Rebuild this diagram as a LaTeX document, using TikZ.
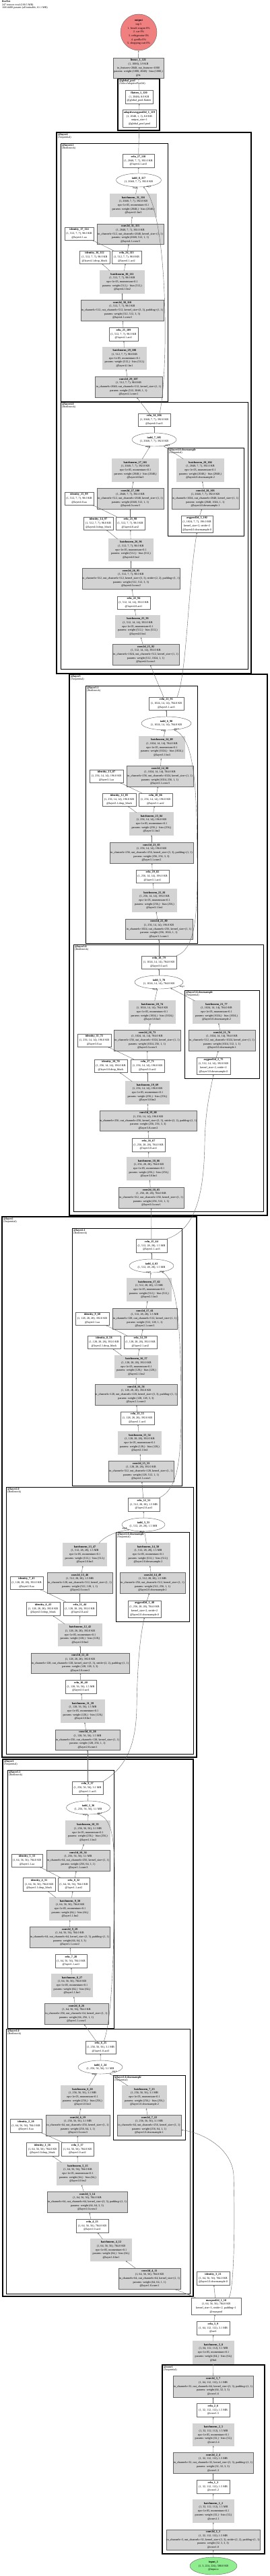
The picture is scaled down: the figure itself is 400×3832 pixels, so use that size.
\documentclass[tikz,border=0pt]{standalone}
\usepackage{fontspec}
\setmainfont{Liberation Serif}
\usetikzlibrary{arrows.meta,shapes.geometric}
\definecolor{lgray}{RGB}{211,211,211}
\definecolor{lcoral}{RGB}{240,128,128}
\definecolor{lgreen}{RGB}{144,238,144}
\begin{document}
\begin{tikzpicture}[x=1pt,y=-1pt,
  every node/.style={font=\fontsize{4.2}{5.7}\selectfont, align=center, inner sep=0pt},
  plainbox/.style={draw=black!60, fill=white, line width=0.45pt},
  convbox/.style={plainbox, fill=lgray},
  bnbox/.style={convbox, double=lgray, double distance=1.1pt},
  addnode/.style={ellipse, draw=black!60, fill=white, line width=0.45pt},
  link/.style={draw=black!60, line width=0.4pt, -{Stealth[length=2.4pt,width=1.9pt]}},
  grp/.style={draw=black, line width=1.2pt},
  subgrp/.style={draw=black, line width=0.9pt},
  grplabel/.style={anchor=north west, align=left, font=\fontsize{4}{4.4}\selectfont},
  arglabel/.style={font=\fontsize{3}{3.4}\selectfont\bfseries}]
\useasboundingbox (0,0) rectangle (400,3832);
\node[grplabel, font=\fontsize{4}{4.5}\selectfont] (title) at (3,1) {\textbf{ResNet}\\247 tensors total (100.5 MB)\\16014408 params (all trainable, 61.1 MB)};

\draw[grp] (175,117) rectangle (237,194);
\node[grplabel] (gpool) at (177,118.5) {\textbf{@global\_pool}\\(SelectAdaptivePool2d)};
\draw[grp] (84,197) rectangle (373,1002);
\node[grplabel] (g4) at (86,198.5) {\textbf{@layer4}\\(Sequential)};
\draw[subgrp] (90,213) rectangle (249,597);
\node[grplabel] (g41) at (92,214.5) {\textbf{@layer4.1}\\(Bottleneck)};
\draw[subgrp] (90,598) rectangle (368,995);
\node[grplabel] (g40) at (92,599.5) {\textbf{@layer4.0}\\(Bottleneck)};
\draw[subgrp] (249,666) rectangle (362,797);
\node[grplabel] (g40d) at (251,667.5) {\textbf{@layer4.0.downsample}\\(Sequential)};
\draw[grp] (103,1003) rectangle (397,1808);
\node[grplabel] (g3) at (105,1004.5) {\textbf{@layer3}\\(Sequential)};
\draw[subgrp] (127,1020) rectangle (293,1403);
\node[grplabel] (g31) at (129,1021.5) {\textbf{@layer3.1}\\(Bottleneck)};
\draw[subgrp] (109,1405) rectangle (391,1802);
\node[grplabel] (g30) at (111,1406.5) {\textbf{@layer3.0}\\(Bottleneck)};
\draw[subgrp] (274,1473) rectangle (385,1604);
\node[grplabel] (g30d) at (276,1474.5) {\textbf{@layer3.0.downsample}\\(Sequential)};
\draw[grp] (3,1810) rectangle (292,2614);
\node[grplabel] (g2) at (5,1811.5) {\textbf{@layer2}\\(Sequential)};
\draw[subgrp] (107,1827) rectangle (270,2210);
\node[grplabel] (g21) at (109,1828.5) {\textbf{@layer2.1}\\(Bottleneck)};
\draw[subgrp] (9,2212) rectangle (287,2609);
\node[grplabel] (g20) at (11,2213.5) {\textbf{@layer2.0}\\(Bottleneck)};
\draw[subgrp] (172,2279) rectangle (281,2412);
\node[grplabel] (g20d) at (174,2280.5) {\textbf{@layer2.0.downsample}\\(Sequential)};
\draw[grp] (4,2617) rectangle (287,3416);
\node[grplabel] (g1) at (6,2618.5) {\textbf{@layer1}\\(Sequential)};
\draw[subgrp] (11,2633) rectangle (169,3017);
\node[grplabel] (g11) at (13,2634.5) {\textbf{@layer1.1}\\(Bottleneck)};
\draw[subgrp] (9,3018) rectangle (282,3412);
\node[grplabel] (g10) at (11,3019.5) {\textbf{@layer1.0}\\(Bottleneck)};
\draw[subgrp] (168,3087) rectangle (275,3183);
\node[grplabel] (g10d) at (170,3088.5) {\textbf{@layer1.0.downsample}\\(Sequential)};
\draw[grp] (241,3518) rectangle (393,3799);
\node[grplabel] (gc1) at (243,3519.5) {\textbf{@conv1}\\(Sequential)};

\node[circle, draw=black!60, fill=lcoral, minimum size=54pt, inner sep=-2pt] (out) at (206,48) {\textbf{output}\\top 5\\1. beach wagon 0\%\\2. car 0\%\\3. refrigerator 0\%\\4. gorilla 0\%\\5. shopping cart 0\%};
\node[convbox, minimum width=75pt, minimum height=30pt] (fc) at (205.5,101) {\textbf{linear\_1\_121}\\(1, 1000), 3.9 KB\\in\_features=2048, out\_features=1000\\params: weight (1000, 2048) · bias (1000,)\\@fc};
\node[plainbox, minimum width=41pt, minimum height=20pt] (flat) at (206.5,144) {\textbf{flatten\_1\_120}\\(1, 2048), 8.0 KB\\@global\_pool.flatten};
\node[plainbox, minimum width=50pt, minimum height=26pt] (pool) at (207,176) {\textbf{adaptiveavgpool2d\_1\_119}\\(1, 2048, 1, 1), 8.0 KB\\output\_size=1\\@global\_pool.pool};

\node[plainbox, minimum width=47pt, minimum height=19.5pt] (relu27) at (205.5,239) {\textbf{relu\_27\_118}\\(1, 2048, 7, 7), 392.0 KB\\@layer4.1.act3};
\node[addnode, minimum width=67pt, minimum height=20pt] (iadd8) at (206,268) {\textbf{iadd\_8\_117}\\(1, 2048, 7, 7), 392.0 KB};
\node[bnbox, minimum width=68pt, minimum height=33pt] (bn31) at (198,305.5) {\textbf{batchnorm\_31\_116}\\(1, 2048, 7, 7), 392.0 KB\\eps=1e-05, momentum=0.1\\params: weight (2048,) · bias (2048,)\\@layer4.1.bn3};
\node[convbox, minimum width=99pt, minimum height=30pt] (conv31) at (193.5,348) {\textbf{conv2d\_31\_115}\\(1, 2048, 7, 7), 392.0 KB\\in\_channels=512, out\_channels=2048, kernel\_size=(1, 1)\\params: weight (2048, 512, 1, 1)\\@layer4.1.conv3};
\node[plainbox, minimum width=43pt, minimum height=19pt] (id17) at (117.5,347.5) {\textbf{identity\_17\_114}\\(1, 512, 7, 7), 98.0 KB\\@layer4.1.aa};
\node[plainbox, minimum width=45pt, minimum height=19pt] (id16) at (140.5,382.5) {\textbf{identity\_16\_112}\\(1, 512, 7, 7), 98.0 KB\\@layer4.1.drop\_block};
\node[plainbox, minimum width=44pt, minimum height=19pt] (relu26) at (188,382.5) {\textbf{relu\_26\_113}\\(1, 512, 7, 7), 98.0 KB\\@layer4.1.act2};
\node[bnbox, minimum width=65pt, minimum height=33pt] (bn30) at (181.5,419.5) {\textbf{batchnorm\_30\_111}\\(1, 512, 7, 7), 98.0 KB\\eps=1e-05, momentum=0.1\\params: weight (512,) · bias (512,)\\@layer4.1.bn2};
\node[convbox, minimum width=123pt, minimum height=31pt] (conv30) at (181.5,461.5) {\textbf{conv2d\_30\_110}\\(1, 512, 7, 7), 98.0 KB\\in\_channels=512, out\_channels=512, kernel\_size=(3, 3), padding=(1, 1)\\params: weight (512, 512, 3, 3)\\@layer4.1.conv2};
\node[plainbox, minimum width=43pt, minimum height=20pt] (relu25) at (183.5,497) {\textbf{relu\_25\_109}\\(1, 512, 7, 7), 98.0 KB\\@layer4.1.act1};
\node[bnbox, minimum width=64pt, minimum height=32pt] (bn29) at (185,533) {\textbf{batchnorm\_29\_108}\\(1, 512, 7, 7), 98.0 KB\\eps=1e-05, momentum=0.1\\params: weight (512,) · bias (512,)\\@layer4.1.bn1};
\node[convbox, minimum width=100pt, minimum height=31pt] (conv29) at (191,575.5) {\textbf{conv2d\_29\_107}\\(1, 512, 7, 7), 98.0 KB\\in\_channels=2048, out\_channels=512, kernel\_size=(1, 1)\\params: weight (512, 2048, 1, 1)\\@layer4.1.conv1};

\node[plainbox, minimum width=48pt, minimum height=19pt] (relu24) at (229,624.5) {\textbf{relu\_24\_106}\\(1, 2048, 7, 7), 392.0 KB\\@layer4.0.act3};
\node[addnode, minimum width=66pt, minimum height=20pt] (iadd7) at (229,654) {\textbf{iadd\_7\_105}\\(1, 2048, 7, 7), 392.0 KB};
\node[bnbox, minimum width=68pt, minimum height=33pt] (bn27) at (201,699.5) {\textbf{batchnorm\_27\_101}\\(1, 2048, 7, 7), 392.0 KB\\eps=1e-05, momentum=0.1\\params: weight (2048,) · bias (2048,)\\@layer4.0.bn3};
\node[bnbox, minimum width=69pt, minimum height=33pt] (bn28) at (297.5,699.5) {\textbf{batchnorm\_28\_104}\\(1, 2048, 7, 7), 392.0 KB\\eps=1e-05, momentum=0.1\\params: weight (2048,) · bias (2048,)\\@layer4.0.downsample.2};
\node[convbox, minimum width=99pt, minimum height=31pt] (conv27) at (193.5,741.5) {\textbf{conv2d\_27\_100}\\(1, 2048, 7, 7), 392.0 KB\\in\_channels=512, out\_channels=2048, kernel\_size=(1, 1)\\params: weight (2048, 512, 1, 1)\\@layer4.0.conv3};
\node[convbox, minimum width=100pt, minimum height=31pt] (conv28) at (305,741.5) {\textbf{conv2d\_28\_103}\\(1, 2048, 7, 7), 392.0 KB\\in\_channels=1024, out\_channels=2048, kernel\_size=(1, 1)\\params: weight (2048, 1024, 1, 1)\\@layer4.0.downsample.1};
\node[plainbox, minimum width=43pt, minimum height=19pt] (id15) at (117.5,741.5) {\textbf{identity\_15\_99}\\(1, 512, 7, 7), 98.0 KB\\@layer4.0.aa};
\node[plainbox, minimum width=44pt, minimum height=19pt] (id14) at (146,778.5) {\textbf{identity\_14\_97}\\(1, 512, 7, 7), 98.0 KB\\@layer4.0.drop\_block};
\node[plainbox, minimum width=43pt, minimum height=19pt] (relu23) at (193.5,778.5) {\textbf{relu\_23\_98}\\(1, 512, 7, 7), 98.0 KB\\@layer4.0.act2};
\node[plainbox, minimum width=47pt, minimum height=25pt] (avg3) at (292.5,779.5) {\textbf{avgpool2d\_3\_102}\\(1, 1024, 7, 7), 196.0 KB\\kernel\_size=2, stride=2\\@layer4.0.downsample.0};
\node[bnbox, minimum width=65pt, minimum height=32pt] (bn26) at (194.5,818) {\textbf{batchnorm\_26\_96}\\(1, 512, 7, 7), 98.0 KB\\eps=1e-05, momentum=0.1\\params: weight (512,) · bias (512,)\\@layer4.0.bn2};
\node[convbox, minimum width=145pt, minimum height=31pt] (conv26) at (194.5,860.5) {\textbf{conv2d\_26\_95}\\(1, 512, 7, 7), 98.0 KB\\in\_channels=512, out\_channels=512, kernel\_size=(3, 3), stride=(2, 2), padding=(1, 1)\\params: weight (512, 512, 3, 3)\\@layer4.0.conv2};
\node[plainbox, minimum width=49pt, minimum height=19pt] (relu22) at (198.5,896.5) {\textbf{relu\_22\_94}\\(1, 512, 14, 14), 392.0 KB\\@layer4.0.act1};
\node[bnbox, minimum width=65pt, minimum height=32pt] (bn25) at (204.5,932) {\textbf{batchnorm\_25\_93}\\(1, 512, 14, 14), 392.0 KB\\eps=1e-05, momentum=0.1\\params: weight (512,) · bias (512,)\\@layer4.0.bn1};
\node[convbox, minimum width=99pt, minimum height=31pt] (conv25) at (216.5,973.5) {\textbf{conv2d\_25\_92}\\(1, 512, 14, 14), 392.0 KB\\in\_channels=1024, out\_channels=512, kernel\_size=(1, 1)\\params: weight (512, 1024, 1, 1)\\@layer4.0.conv1};

\node[plainbox, minimum width=52pt, minimum height=19pt] (relu21) at (247,1046.5) {\textbf{relu\_21\_91}\\(1, 1024, 14, 14), 784.0 KB\\@layer3.1.act3};
\node[addnode, minimum width=74pt, minimum height=20pt] (iadd6) at (247,1076) {\textbf{iadd\_6\_90}\\(1, 1024, 14, 14), 784.0 KB};
\node[bnbox, minimum width=67pt, minimum height=32pt] (bn24) at (240.5,1112) {\textbf{batchnorm\_24\_89}\\(1, 1024, 14, 14), 784.0 KB\\eps=1e-05, momentum=0.1\\params: weight (1024,) · bias (1024,)\\@layer3.1.bn3};
\node[convbox, minimum width=99pt, minimum height=31pt] (conv24) at (237.5,1154.5) {\textbf{conv2d\_24\_88}\\(1, 1024, 14, 14), 784.0 KB\\in\_channels=256, out\_channels=1024, kernel\_size=(1, 1)\\params: weight (1024, 256, 1, 1)\\@layer3.1.conv3};
\node[plainbox, minimum width=50pt, minimum height=19pt] (id13) at (158,1154.5) {\textbf{identity\_13\_87}\\(1, 256, 14, 14), 196.0 KB\\@layer3.1.aa};
\node[plainbox, minimum width=50pt, minimum height=19pt] (id12) at (177,1189.5) {\textbf{identity\_12\_85}\\(1, 256, 14, 14), 196.0 KB\\@layer3.1.drop\_block};
\node[plainbox, minimum width=50pt, minimum height=19pt] (relu20) at (231,1189.5) {\textbf{relu\_20\_86}\\(1, 256, 14, 14), 196.0 KB\\@layer3.1.act2};
\node[bnbox, minimum width=64pt, minimum height=33pt] (bn23) at (225,1225.5) {\textbf{batchnorm\_23\_84}\\(1, 256, 14, 14), 196.0 KB\\eps=1e-05, momentum=0.1\\params: weight (256,) · bias (256,)\\@layer3.1.bn2};
\node[convbox, minimum width=124pt, minimum height=31pt] (conv23) at (225,1268.5) {\textbf{conv2d\_23\_83}\\(1, 256, 14, 14), 196.0 KB\\in\_channels=256, out\_channels=256, kernel\_size=(3, 3), padding=(1, 1)\\params: weight (256, 256, 3, 3)\\@layer3.1.conv2};
\node[plainbox, minimum width=49pt, minimum height=19pt] (relu19) at (226.5,1303.5) {\textbf{relu\_19\_82}\\(1, 256, 14, 14), 196.0 KB\\@layer3.1.act1};
\node[bnbox, minimum width=65pt, minimum height=33pt] (bn22) at (229.5,1339.5) {\textbf{batchnorm\_22\_81}\\(1, 256, 14, 14), 196.0 KB\\eps=1e-05, momentum=0.1\\params: weight (256,) · bias (256,)\\@layer3.1.bn1};
\node[convbox, minimum width=100pt, minimum height=30pt] (conv22) at (236,1382) {\textbf{conv2d\_22\_80}\\(1, 256, 14, 14), 196.0 KB\\in\_channels=1024, out\_channels=256, kernel\_size=(1, 1)\\params: weight (256, 1024, 1, 1)\\@layer3.1.conv1};

\node[plainbox, minimum width=52pt, minimum height=19pt] (relu18) at (236,1431.5) {\textbf{relu\_18\_79}\\(1, 1024, 14, 14), 784.0 KB\\@layer3.0.act3};
\node[addnode, minimum width=72pt, minimum height=20pt] (iadd5) at (236,1461) {\textbf{iadd\_5\_78}\\(1, 1024, 14, 14), 784.0 KB};
\node[bnbox, minimum width=68pt, minimum height=33pt] (bn20) at (226,1505.5) {\textbf{batchnorm\_20\_74}\\(1, 1024, 14, 14), 784.0 KB\\eps=1e-05, momentum=0.1\\params: weight (1024,) · bias (1024,)\\@layer3.0.bn3};
\node[bnbox, minimum width=69pt, minimum height=33pt] (bn21) at (321.5,1505.5) {\textbf{batchnorm\_21\_77}\\(1, 1024, 14, 14), 784.0 KB\\eps=1e-05, momentum=0.1\\params: weight (1024,) · bias (1024,)\\@layer3.0.downsample.2};
\node[convbox, minimum width=99pt, minimum height=31pt] (conv20) at (218.5,1547.5) {\textbf{conv2d\_20\_73}\\(1, 1024, 14, 14), 784.0 KB\\in\_channels=256, out\_channels=1024, kernel\_size=(1, 1)\\params: weight (1024, 256, 1, 1)\\@layer3.0.conv3};
\node[convbox, minimum width=99pt, minimum height=31pt] (conv21) at (329.5,1547.5) {\textbf{conv2d\_21\_76}\\(1, 1024, 14, 14), 784.0 KB\\in\_channels=512, out\_channels=1024, kernel\_size=(1, 1)\\params: weight (1024, 512, 1, 1)\\@layer3.0.downsample.1};
\node[plainbox, minimum width=50pt, minimum height=19pt] (id11) at (140,1547.5) {\textbf{identity\_11\_72}\\(1, 256, 14, 14), 196.0 KB\\@layer3.0.aa};
\node[plainbox, minimum width=49pt, minimum height=19pt] (id10) at (164.5,1585.5) {\textbf{identity\_10\_70}\\(1, 256, 14, 14), 196.0 KB\\@layer3.0.drop\_block};
\node[plainbox, minimum width=50pt, minimum height=19pt] (relu17) at (219,1585.5) {\textbf{relu\_17\_71}\\(1, 256, 14, 14), 196.0 KB\\@layer3.0.act2};
\node[plainbox, minimum width=50pt, minimum height=25pt] (avg2) at (317,1585.5) {\textbf{avgpool2d\_2\_75}\\(1, 512, 14, 14), 392.0 KB\\kernel\_size=2, stride=2\\@layer3.0.downsample.0};
\node[bnbox, minimum width=64pt, minimum height=33pt] (bn19) at (219,1625.5) {\textbf{batchnorm\_19\_69}\\(1, 256, 14, 14), 196.0 KB\\eps=1e-05, momentum=0.1\\params: weight (256,) · bias (256,)\\@layer3.0.bn2};
\node[convbox, minimum width=144pt, minimum height=30pt] (conv19) at (220,1667) {\textbf{conv2d\_19\_68}\\(1, 256, 14, 14), 196.0 KB\\in\_channels=256, out\_channels=256, kernel\_size=(3, 3), stride=(2, 2), padding=(1, 1)\\params: weight (256, 256, 3, 3)\\@layer3.0.conv2};
\node[plainbox, minimum width=49pt, minimum height=20pt] (relu16) at (220.5,1703) {\textbf{relu\_16\_67}\\(1, 256, 28, 28), 784.0 KB\\@layer3.0.act1};
\node[bnbox, minimum width=64pt, minimum height=33pt] (bn18) at (221,1738.5) {\textbf{batchnorm\_18\_66}\\(1, 256, 28, 28), 784.0 KB\\eps=1e-05, momentum=0.1\\params: weight (256,) · bias (256,)\\@layer3.0.bn1};
\node[convbox, minimum width=97pt, minimum height=31pt] (conv18) at (224.5,1781.5) {\textbf{conv2d\_18\_65}\\(1, 256, 28, 28), 784.0 KB\\in\_channels=512, out\_channels=256, kernel\_size=(1, 1)\\params: weight (256, 512, 1, 1)\\@layer3.0.conv1};

\node[plainbox, minimum width=46pt, minimum height=20pt] (relu15) at (225,1853) {\textbf{relu\_15\_64}\\(1, 512, 28, 28), 1.5 MB\\@layer2.1.act3};
\node[addnode, minimum width=66pt, minimum height=20pt] (iadd4) at (225,1883) {\textbf{iadd\_4\_63}\\(1, 512, 28, 28), 1.5 MB};
\node[bnbox, minimum width=65pt, minimum height=33pt] (bn17) at (221.5,1918.5) {\textbf{batchnorm\_17\_62}\\(1, 512, 28, 28), 1.5 MB\\eps=1e-05, momentum=0.1\\params: weight (512,) · bias (512,)\\@layer2.1.bn3};
\node[convbox, minimum width=96pt, minimum height=31pt] (conv17) at (215,1961.5) {\textbf{conv2d\_17\_61}\\(1, 512, 28, 28), 1.5 MB\\in\_channels=128, out\_channels=512, kernel\_size=(1, 1)\\params: weight (512, 128, 1, 1)\\@layer2.1.conv3};
\node[plainbox, minimum width=50pt, minimum height=19pt] (id9) at (137,1961.5) {\textbf{identity\_9\_60}\\(1, 128, 28, 28), 392.0 KB\\@layer2.1.aa};
\node[plainbox, minimum width=49pt, minimum height=19pt] (id8) at (154.5,1996.5) {\textbf{identity\_8\_58}\\(1, 128, 28, 28), 392.0 KB\\@layer2.1.drop\_block};
\node[plainbox, minimum width=49pt, minimum height=19pt] (relu14) at (208.5,1996.5) {\textbf{relu\_14\_59}\\(1, 128, 28, 28), 392.0 KB\\@layer2.1.act2};
\node[bnbox, minimum width=63pt, minimum height=32pt] (bn16) at (202.5,2033) {\textbf{batchnorm\_16\_57}\\(1, 128, 28, 28), 392.0 KB\\eps=1e-05, momentum=0.1\\params: weight (128,) · bias (128,)\\@layer2.1.bn2};
\node[convbox, minimum width=122pt, minimum height=31pt] (conv16) at (202,2074.5) {\textbf{conv2d\_16\_56}\\(1, 128, 28, 28), 392.0 KB\\in\_channels=128, out\_channels=128, kernel\_size=(3, 3), padding=(1, 1)\\params: weight (128, 128, 3, 3)\\@layer2.1.conv2};
\node[plainbox, minimum width=50pt, minimum height=19pt] (relu13) at (204,2109.5) {\textbf{relu\_13\_55}\\(1, 128, 28, 28), 392.0 KB\\@layer2.1.act1};
\node[bnbox, minimum width=63pt, minimum height=33pt] (bn15) at (207.5,2146.5) {\textbf{batchnorm\_15\_54}\\(1, 128, 28, 28), 392.0 KB\\eps=1e-05, momentum=0.1\\params: weight (128,) · bias (128,)\\@layer2.1.bn1};
\node[convbox, minimum width=97pt, minimum height=31pt] (conv15) at (209.5,2188.5) {\textbf{conv2d\_15\_53}\\(1, 128, 28, 28), 392.0 KB\\in\_channels=512, out\_channels=128, kernel\_size=(1, 1)\\params: weight (128, 512, 1, 1)\\@layer2.1.conv1};

\node[plainbox, minimum width=47pt, minimum height=20pt] (relu12) at (213.5,2238) {\textbf{relu\_12\_52}\\(1, 512, 28, 28), 1.5 MB\\@layer2.0.act3};
\node[addnode, minimum width=64pt, minimum height=20pt] (iadd3) at (213,2268) {\textbf{iadd\_3\_51}\\(1, 512, 28, 28), 1.5 MB};
\node[bnbox, minimum width=64pt, minimum height=33pt] (bn13) at (126,2312.5) {\textbf{batchnorm\_13\_47}\\(1, 512, 28, 28), 1.5 MB\\eps=1e-05, momentum=0.1\\params: weight (512,) · bias (512,)\\@layer2.0.bn3};
\node[bnbox, minimum width=64pt, minimum height=33pt] (bn14) at (220,2312.5) {\textbf{batchnorm\_14\_50}\\(1, 512, 28, 28), 1.5 MB\\eps=1e-05, momentum=0.1\\params: weight (512,) · bias (512,)\\@layer2.0.downsample.2};
\node[convbox, minimum width=97pt, minimum height=31pt] (conv13) at (118.5,2354.5) {\textbf{conv2d\_13\_46}\\(1, 512, 28, 28), 1.5 MB\\in\_channels=128, out\_channels=512, kernel\_size=(1, 1)\\params: weight (512, 128, 1, 1)\\@layer2.0.conv3};
\node[convbox, minimum width=97pt, minimum height=31pt] (conv14) at (226.5,2354.5) {\textbf{conv2d\_14\_49}\\(1, 512, 28, 28), 1.5 MB\\in\_channels=256, out\_channels=512, kernel\_size=(1, 1)\\params: weight (512, 256, 1, 1)\\@layer2.0.downsample.1};
\node[plainbox, minimum width=49pt, minimum height=19pt] (id7) at (39.5,2354.5) {\textbf{identity\_7\_45}\\(1, 128, 28, 28), 392.0 KB\\@layer2.0.aa};
\node[plainbox, minimum width=50pt, minimum height=20pt] (id6) at (64,2393) {\textbf{identity\_6\_43}\\(1, 128, 28, 28), 392.0 KB\\@layer2.0.drop\_block};
\node[plainbox, minimum width=49pt, minimum height=20pt] (relu11) at (118.5,2393) {\textbf{relu\_11\_44}\\(1, 128, 28, 28), 392.0 KB\\@layer2.0.act2};
\node[plainbox, minimum width=49pt, minimum height=25pt] (avg1) at (214.5,2393.5) {\textbf{avgpool2d\_1\_48}\\(1, 256, 28, 28), 784.0 KB\\kernel\_size=2, stride=2\\@layer2.0.downsample.0};
\node[bnbox, minimum width=64pt, minimum height=32pt] (bn12) at (119,2432) {\textbf{batchnorm\_12\_42}\\(1, 128, 28, 28), 392.0 KB\\eps=1e-05, momentum=0.1\\params: weight (128,) · bias (128,)\\@layer2.0.bn2};
\node[convbox, minimum width=146pt, minimum height=30pt] (conv12) at (119,2474) {\textbf{conv2d\_12\_41}\\(1, 128, 28, 28), 392.0 KB\\in\_channels=128, out\_channels=128, kernel\_size=(3, 3), stride=(2, 2), padding=(1, 1)\\params: weight (128, 128, 3, 3)\\@layer2.0.conv2};
\node[plainbox, minimum width=46pt, minimum height=20pt] (relu10) at (120,2509) {\textbf{relu\_10\_40}\\(1, 128, 56, 56), 1.5 MB\\@layer2.0.act1};
\node[bnbox, minimum width=64pt, minimum height=33pt] (bn11) at (123,2545.5) {\textbf{batchnorm\_11\_39}\\(1, 128, 56, 56), 1.5 MB\\eps=1e-05, momentum=0.1\\params: weight (128,) · bias (128,)\\@layer2.0.bn1};
\node[convbox, minimum width=96pt, minimum height=30pt] (conv11) at (130,2588) {\textbf{conv2d\_11\_38}\\(1, 128, 56, 56), 1.5 MB\\in\_channels=256, out\_channels=128, kernel\_size=(1, 1)\\params: weight (128, 256, 1, 1)\\@layer2.0.conv1};

\node[plainbox, minimum width=46pt, minimum height=19pt] (relu9) at (130,2659.5) {\textbf{relu\_9\_37}\\(1, 256, 56, 56), 3.1 MB\\@layer1.1.act3};
\node[addnode, minimum width=65pt, minimum height=20pt] (iadd2) at (131,2689) {\textbf{iadd\_2\_36}\\(1, 256, 56, 56), 3.1 MB};
\node[bnbox, minimum width=65pt, minimum height=34pt] (bn10) at (130.5,2726) {\textbf{batchnorm\_10\_35}\\(1, 256, 56, 56), 3.1 MB\\eps=1e-05, momentum=0.1\\params: weight (256,) · bias (256,)\\@layer1.1.bn3};
\node[convbox, minimum width=94pt, minimum height=31pt] (conv10) at (116,2767.5) {\textbf{conv2d\_10\_34}\\(1, 256, 56, 56), 3.1 MB\\in\_channels=64, out\_channels=256, kernel\_size=(1, 1)\\params: weight (256, 64, 1, 1)\\@layer1.1.conv3};
\node[plainbox, minimum width=46pt, minimum height=19pt] (id5) at (40,2767.5) {\textbf{identity\_5\_33}\\(1, 64, 56, 56), 784.0 KB\\@layer1.1.aa};
\node[plainbox, minimum width=48pt, minimum height=20pt] (id4) at (58,2803) {\textbf{identity\_4\_31}\\(1, 64, 56, 56), 784.0 KB\\@layer1.1.drop\_block};
\node[plainbox, minimum width=47pt, minimum height=20pt] (relu8) at (109.5,2803) {\textbf{relu\_8\_32}\\(1, 64, 56, 56), 784.0 KB\\@layer1.1.act2};
\node[bnbox, minimum width=60pt, minimum height=33pt] (bn9) at (104,2839.5) {\textbf{batchnorm\_9\_30}\\(1, 64, 56, 56), 784.0 KB\\eps=1e-05, momentum=0.1\\params: weight (64,) · bias (64,)\\@layer1.1.bn2};
\node[convbox, minimum width=119pt, minimum height=31pt] (conv9) at (103.5,2881.5) {\textbf{conv2d\_9\_29}\\(1, 64, 56, 56), 784.0 KB\\in\_channels=64, out\_channels=64, kernel\_size=(3, 3), padding=(1, 1)\\params: weight (64, 64, 3, 3)\\@layer1.1.conv2};
\node[plainbox, minimum width=47pt, minimum height=20pt] (relu7) at (105.5,2917) {\textbf{relu\_7\_28}\\(1, 64, 56, 56), 784.0 KB\\@layer1.1.act1};
\node[bnbox, minimum width=60pt, minimum height=33pt] (bn8) at (107,2953.5) {\textbf{batchnorm\_8\_27}\\(1, 64, 56, 56), 784.0 KB\\eps=1e-05, momentum=0.1\\params: weight (64,) · bias (64,)\\@layer1.1.bn1};
\node[convbox, minimum width=95pt, minimum height=31pt] (conv8) at (113.5,2995.5) {\textbf{conv2d\_8\_26}\\(1, 64, 56, 56), 784.0 KB\\in\_channels=256, out\_channels=64, kernel\_size=(1, 1)\\params: weight (64, 256, 1, 1)\\@layer1.1.conv1};

\node[plainbox, minimum width=45pt, minimum height=19pt] (relu6) at (149.5,3045.5) {\textbf{relu\_6\_25}\\(1, 256, 56, 56), 3.1 MB\\@layer1.0.act3};
\node[addnode, minimum width=66pt, minimum height=20pt] (iadd1) at (149,3075) {\textbf{iadd\_1\_24}\\(1, 256, 56, 56), 3.1 MB};
\node[bnbox, minimum width=63pt, minimum height=33pt] (bn6) at (122.5,3119.5) {\textbf{batchnorm\_6\_20}\\(1, 256, 56, 56), 3.1 MB\\eps=1e-05, momentum=0.1\\params: weight (256,) · bias (256,)\\@layer1.0.bn3};
\node[bnbox, minimum width=65pt, minimum height=33pt] (bn7) at (214.5,3119.5) {\textbf{batchnorm\_7\_23}\\(1, 256, 56, 56), 3.1 MB\\eps=1e-05, momentum=0.1\\params: weight (256,) · bias (256,)\\@layer1.0.downsample.2};
\node[convbox, minimum width=95pt, minimum height=31pt] (conv6) at (115.5,3161.5) {\textbf{conv2d\_6\_19}\\(1, 256, 56, 56), 3.1 MB\\in\_channels=64, out\_channels=256, kernel\_size=(1, 1)\\params: weight (256, 64, 1, 1)\\@layer1.0.conv3};
\node[convbox, minimum width=95pt, minimum height=31pt] (conv7) at (221.5,3161.5) {\textbf{conv2d\_7\_22}\\(1, 256, 56, 56), 3.1 MB\\in\_channels=64, out\_channels=256, kernel\_size=(1, 1)\\params: weight (256, 64, 1, 1)\\@layer1.0.downsample.1};
\node[plainbox, minimum width=47pt, minimum height=20pt] (id2) at (38.5,3162) {\textbf{identity\_2\_18}\\(1, 64, 56, 56), 784.0 KB\\@layer1.0.aa};
\node[plainbox, minimum width=48pt, minimum height=20pt] (id1) at (63,3197) {\textbf{identity\_1\_16}\\(1, 64, 56, 56), 784.0 KB\\@layer1.0.drop\_block};
\node[plainbox, minimum width=48pt, minimum height=20pt] (relu5) at (115,3197) {\textbf{relu\_5\_17}\\(1, 64, 56, 56), 784.0 KB\\@layer1.0.act2};
\node[bnbox, minimum width=61pt, minimum height=33pt] (bn5) at (115.5,3233.5) {\textbf{batchnorm\_5\_15}\\(1, 64, 56, 56), 784.0 KB\\eps=1e-05, momentum=0.1\\params: weight (64,) · bias (64,)\\@layer1.0.bn2};
\node[convbox, minimum width=119pt, minimum height=31pt] (conv5) at (129.5,3275.5) {\textbf{conv2d\_5\_14}\\(1, 64, 56, 56), 784.0 KB\\in\_channels=64, out\_channels=64, kernel\_size=(3, 3), padding=(1, 1)\\params: weight (64, 64, 3, 3)\\@layer1.0.conv2};
\node[plainbox, minimum width=48pt, minimum height=20pt] (relu4) at (137,3311) {\textbf{relu\_4\_13}\\(1, 64, 56, 56), 784.0 KB\\@layer1.0.act1};
\node[bnbox, minimum width=60pt, minimum height=32pt] (bn4) at (165,3347) {\textbf{batchnorm\_4\_12}\\(1, 64, 56, 56), 784.0 KB\\eps=1e-05, momentum=0.1\\params: weight (64,) · bias (64,)\\@layer1.0.bn1};
\node[convbox, minimum width=92pt, minimum height=31pt] (conv4) at (222,3389.5) {\textbf{conv2d\_4\_11}\\(1, 64, 56, 56), 784.0 KB\\in\_channels=64, out\_channels=64, kernel\_size=(1, 1)\\params: weight (64, 64, 1, 1)\\@layer1.0.conv1};

\node[plainbox, minimum width=49pt, minimum height=20pt] (id3) at (316.5,3389) {\textbf{identity\_3\_21}\\(1, 64, 56, 56), 784.0 KB\\@layer1.0.downsample.0};
\node[plainbox, minimum width=74pt, minimum height=25pt] (maxpool) at (321,3430.5) {\textbf{maxpool2d\_1\_10}\\(1, 64, 56, 56), 784.0 KB\\kernel\_size=3, stride=2, padding=1\\@maxpool};
\node[plainbox, minimum width=49pt, minimum height=20pt] (relu3) at (316.5,3463) {\textbf{relu\_3\_9}\\(1, 64, 112, 112), 3.1 MB\\@act1};
\node[bnbox, minimum width=60pt, minimum height=33pt] (bn3) at (317,3499.5) {\textbf{batchnorm\_3\_8}\\(1, 64, 112, 112), 3.1 MB\\eps=1e-05, momentum=0.1\\params: weight (64,) · bias (64,)\\@bn1};
\node[convbox, minimum width=119pt, minimum height=32pt] (conv3) at (316.5,3550) {\textbf{conv2d\_3\_7}\\(1, 64, 112, 112), 3.1 MB\\in\_channels=32, out\_channels=64, kernel\_size=(3, 3), padding=(1, 1)\\params: weight (64, 32, 3, 3)\\@conv1.6};
\node[plainbox, minimum width=49pt, minimum height=20pt] (relu2) at (316.5,3585) {\textbf{relu\_2\_6}\\(1, 32, 112, 112), 1.5 MB\\@conv1.5};
\node[bnbox, minimum width=60pt, minimum height=32pt] (bn2) at (317,3622) {\textbf{batchnorm\_2\_5}\\(1, 32, 112, 112), 1.5 MB\\eps=1e-05, momentum=0.1\\params: weight (32,) · bias (32,)\\@conv1.4};
\node[convbox, minimum width=119pt, minimum height=31pt] (conv2) at (316.5,3663.5) {\textbf{conv2d\_2\_4}\\(1, 32, 112, 112), 1.5 MB\\in\_channels=32, out\_channels=32, kernel\_size=(3, 3), padding=(1, 1)\\params: weight (32, 32, 3, 3)\\@conv1.3};
\node[plainbox, minimum width=49pt, minimum height=20pt] (relu1) at (316.5,3699) {\textbf{relu\_1\_3}\\(1, 32, 112, 112), 1.5 MB\\@conv1.2};
\node[bnbox, minimum width=60pt, minimum height=33pt] (bn1) at (317,3735.5) {\textbf{batchnorm\_1\_2}\\(1, 32, 112, 112), 1.5 MB\\eps=1e-05, momentum=0.1\\params: weight (32,) · bias (32,)\\@conv1.1};
\node[convbox, minimum width=139pt, minimum height=30pt] (conv1) at (316.5,3778) {\textbf{conv2d\_1\_1}\\(1, 32, 112, 112), 1.5 MB\\in\_channels=3, out\_channels=32, kernel\_size=(3, 3), stride=(2, 2), padding=(1, 1)\\params: weight (32, 3, 3, 3)\\@conv1.0};
\node[ellipse, draw=black!60, fill=lgreen, minimum width=70pt, minimum height=26pt] (input) at (317,3817) {\textbf{input\_1}\\(1, 3, 224, 224), 588.0 KB\\@input.x};

\node[arglabel] (a80) at (200.5,279.5) {arg 0};
\node[arglabel] (a81) at (221,278) {arg 1};
\node[arglabel] (a70) at (219.5,665) {arg 0};
\node[arglabel] (a71) at (249,663) {arg 1};
\node[arglabel] (a60) at (242.5,1087) {arg 0};
\node[arglabel] (a61) at (262,1085) {arg 1};
\node[arglabel] (a50) at (230,1472) {arg 0};
\node[arglabel] (a51) at (270.5,1468) {arg 1};
\node[arglabel] (a40) at (220.5,1893) {arg 0};
\node[arglabel] (a41) at (240.5,1892) {arg 1};
\node[arglabel] (a30) at (185,2274) {arg 0};
\node[arglabel] (a31) at (211,2279) {arg 1};
\node[arglabel] (a20) at (126.5,2700) {arg 0};
\node[arglabel] (a21) at (148,2698) {arg 1};
\node[arglabel] (a10) at (140,3086) {arg 0};
\node[arglabel] (a11) at (170,3082) {arg 1};

\draw[link] (fc) -- (out);
\draw[link] (flat) -- (fc);
\draw[link] (pool) -- (flat);
\draw[link] (relu27) -- (pool);
\draw[link] (iadd8) -- (relu27);
\draw[link] (bn31) -- (iadd8);
\draw[link] (conv31) -- (bn31);
\draw[link] (relu26) -- (conv31);
\draw[link] (relu26) -- (id17);
\draw[link] (bn30) -- (relu26);
\draw[link] (bn30) -- (id16);
\draw[link] (conv30) -- (bn30);
\draw[link] (relu25) -- (conv30);
\draw[link] (bn29) -- (relu25);
\draw[link] (conv29) -- (bn29);
\draw[link] (relu24) -- (conv29);
\draw[link] ([xshift=8pt]relu24.north) .. controls (250,560) and (251,320) .. (iadd8.-55);

\draw[link] (iadd7) -- (relu24);
\draw[link] (bn27) -- (iadd7);
\draw[link] (bn28) -- (iadd7);
\draw[link] (conv27) -- (bn27);
\draw[link] (conv28) -- (bn28);
\draw[link] (relu23) -- (conv27);
\draw[link] (relu23) -- (id15);
\draw[link] (avg3) -- (conv28);
\draw[link] (bn26) -- (relu23);
\draw[link] (bn26) -- (id14);
\draw[link] (conv26) -- (bn26);
\draw[link] (relu22) -- (conv26);
\draw[link] (bn25) -- (relu22);
\draw[link] (conv25) -- (bn25);
\draw[link] (relu21) -- (conv25);
\draw[link] ([xshift=16pt]relu21.north) .. controls (278,1000) and (279,870) .. (avg3.south);

\draw[link] (iadd6) -- (relu21);
\draw[link] (bn24) -- (iadd6);
\draw[link] (conv24) -- (bn24);
\draw[link] (relu20) -- (conv24);
\draw[link] (relu20) -- (id13);
\draw[link] (bn23) -- (relu20);
\draw[link] (bn23) -- (id12);
\draw[link] (conv23) -- (bn23);
\draw[link] (relu19) -- (conv23);
\draw[link] (bn22) -- (relu19);
\draw[link] (conv22) -- (bn22);
\draw[link] (relu18) -- (conv22);
\draw[link] (relu18.north east) .. controls (288,1412) and (293,1370) .. (293,1300) .. controls (293,1160) and (288,1100) .. (iadd6.-40);

\draw[link] (iadd5) -- (relu18);
\draw[link] (bn20) -- (iadd5);
\draw[link] (bn21) -- (iadd5);
\draw[link] (conv20) -- (bn20);
\draw[link] (conv21) -- (bn21);
\draw[link] (relu17) -- (conv20);
\draw[link] (relu17) -- (id11);
\draw[link] (avg2) -- (conv21);
\draw[link] (bn19) -- (relu17);
\draw[link] (bn19) -- (id10);
\draw[link] (conv19) -- (bn19);
\draw[link] (relu16) -- (conv19);
\draw[link] (bn18) -- (relu16);
\draw[link] (conv18) -- (bn18);
\draw[link] (relu15) -- (conv18);
\draw[link] (relu15.north east) .. controls (285,1830) and (303,1790) .. (304,1700) .. controls (305,1650) and (312,1625) .. (avg2.south);

\draw[link] (iadd4) -- (relu15);
\draw[link] (bn17) -- (iadd4);
\draw[link] (conv17) -- (bn17);
\draw[link] (relu14) -- (conv17);
\draw[link] (relu14) -- (id9);
\draw[link] (bn16) -- (relu14);
\draw[link] (bn16) -- (id8);
\draw[link] (conv16) -- (bn16);
\draw[link] (relu13) -- (conv16);
\draw[link] (bn15) -- (relu13);
\draw[link] (conv15) -- (bn15);
\draw[link] (relu12) -- (conv15);
\draw[link] (relu12.north east) .. controls (262,2215) and (269,2180) .. (269,2100) .. controls (269,1960) and (262,1905) .. (iadd4.-30);

\draw[link] (iadd3) -- (relu12);
\draw[link] ([xshift=21pt]bn13.north) .. controls (152,2288) and (170,2278) .. (iadd3.200);
\draw[link] (bn14) -- (iadd3);
\draw[link] (conv13) -- (bn13);
\draw[link] (conv14) -- (bn14);
\draw[link] (relu11) -- (conv13);
\draw[link] (relu11) -- (id7);
\draw[link] (avg1) -- (conv14);
\draw[link] (bn12) -- (relu11);
\draw[link] (bn12) -- (id6);
\draw[link] (conv12) -- (bn12);
\draw[link] (relu10) -- (conv12);
\draw[link] (bn11) -- (relu10);
\draw[link] (conv11) -- (bn11);
\draw[link] (relu9) -- (conv11);
\draw[link] (relu9.north east) .. controls (185,2630) and (202,2600) .. (203,2540) .. controls (204,2470) and (209,2430) .. (avg1.south);

\draw[link] (iadd2) -- (relu9);
\draw[link] (bn10) -- (iadd2);
\draw[link] (conv10) -- (bn10);
\draw[link] (relu8) -- (conv10);
\draw[link] (relu8) -- (id5);
\draw[link] (bn9) -- (relu8);
\draw[link] (bn9) -- (id4);
\draw[link] (conv9) -- (bn9);
\draw[link] (relu7) -- (conv9);
\draw[link] (bn8) -- (relu7);
\draw[link] (conv8) -- (bn8);
\draw[link] (relu6) -- (conv8);
\draw[link] ([xshift=5pt]relu6.north) .. controls (165,3005) and (169,2930) .. (170,2800) .. controls (171,2730) and (165,2705) .. (iadd2.-35);

\draw[link] (iadd1) -- (relu6);
\draw[link] (bn6) -- (iadd1);
\draw[link] (bn7) -- (iadd1);
\draw[link] (conv6) -- (bn6);
\draw[link] (conv7) -- (bn7);
\draw[link] (relu5) -- (conv6);
\draw[link] (relu5) -- (id2);
\draw[link] (bn5) -- (relu5);
\draw[link] (bn5) -- (id1);
\draw[link] (conv5) -- (bn5);
\draw[link] (relu4) -- (conv5);
\draw[link] (bn4) -- (relu4);
\draw[link] (conv4) -- (bn4);
\draw[link] (maxpool) -- (conv4);
\draw[link] (maxpool) -- (id3);
\draw[link] ([xshift=19pt]maxpool.north) .. controls (348,3405) and (349,3300) .. (347,3235) .. controls (344,3195) and (300,3172) .. ([yshift=-7pt]conv7.east);

\draw[link] (relu3) -- (maxpool);
\draw[link] (bn3) -- (relu3);
\draw[link] (conv3) -- (bn3);
\draw[link] (relu2) -- (conv3);
\draw[link] (bn2) -- (relu2);
\draw[link] (conv2) -- (bn2);
\draw[link] (relu1) -- (conv2);
\draw[link] (bn1) -- (relu1);
\draw[link] (conv1) -- (bn1);
\draw[link] (input) -- (conv1);
\end{tikzpicture}
\end{document}
